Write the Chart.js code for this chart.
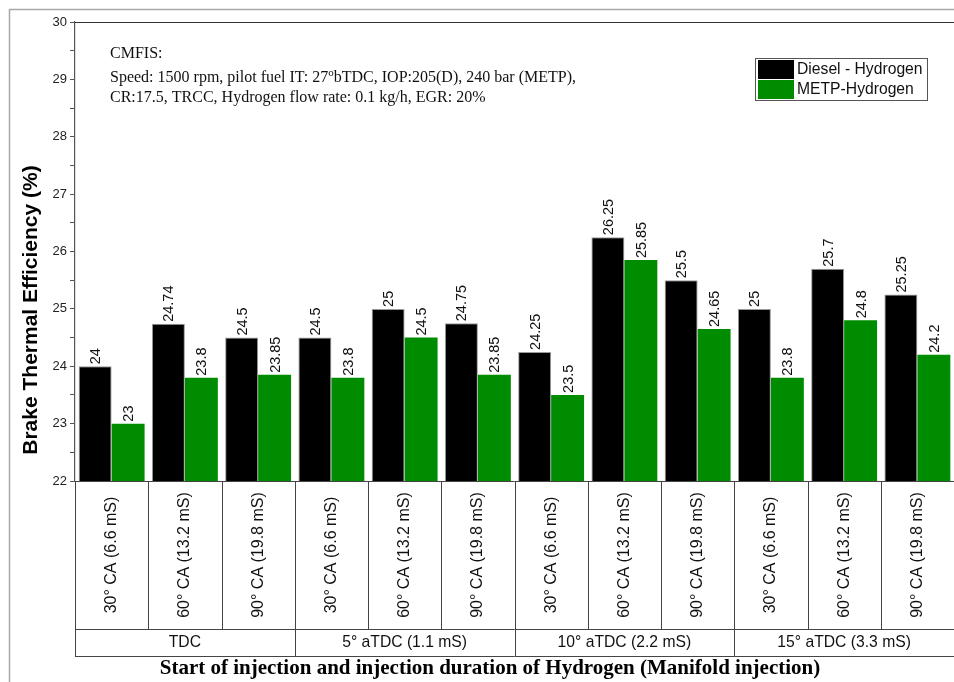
<!DOCTYPE html>
<html>
<head>
<meta charset="utf-8">
<script src="https://cdn.jsdelivr.net/npm/chart.js@4/dist/chart.umd.min.js"></script>
<style>
html,body{margin:0;padding:0;background:#fff;}
#wrap{width:954px;height:682px;position:relative;}
canvas{display:block;}
</style>
</head>
<body>
<div id="wrap"><canvas id="c" width="954" height="682"></canvas></div>
<script>
// ---- data ----
const categories = ["30° CA (6.6 mS)","60° CA (13.2 mS)","90° CA (19.8 mS)",
                    "30° CA (6.6 mS)","60° CA (13.2 mS)","90° CA (19.8 mS)",
                    "30° CA (6.6 mS)","60° CA (13.2 mS)","90° CA (19.8 mS)",
                    "30° CA (6.6 mS)","60° CA (13.2 mS)","90° CA (19.8 mS)"];
const groups = ["TDC","5° aTDC (1.1 mS)","10° aTDC (2.2 mS)","15° aTDC (3.3 mS)"];
const dieselHydrogen = [24, 24.74, 24.5, 24.5, 25, 24.75, 24.25, 26.25, 25.5, 25, 25.7, 25.25];
const metpHydrogen   = [23, 23.8, 23.85, 23.8, 24.5, 23.85, 23.5, 25.85, 24.65, 23.8, 24.8, 24.2];
const seriesNames = ["Diesel - Hydrogen","METP-Hydrogen"];
const yTitle = "Brake Thermal Efficiency (%)";
const xTitle = "Start of injection and injection duration of Hydrogen (Manifold injection)";
const noteLines = ["CMFIS:",
  ["Speed: 1500 rpm, pilot fuel IT: 27","o","bTDC, IOP:205(D), 240 bar (METP),"],
  "CR:17.5, TRCC, Hydrogen flow rate: 0.1 kg/h, EGR: 20%"];

const BLACK = '#000000', GREEN = '#008C00';

const drawPlugin = {
  id: 'custom',
  afterDatasetsDraw(chart) {
    const ctx = chart.ctx;
    ctx.save();
    ctx.font = '14.5px Arial, "Liberation Sans", sans-serif';
    ctx.fillStyle = '#111';
    ctx.textAlign = 'left';
    ctx.textBaseline = 'middle';
    chart.data.datasets.forEach((ds, di) => {
      chart.getDatasetMeta(di).data.forEach((bar, i) => {
        ctx.save();
        ctx.translate(bar.x + 1, bar.y - 2);
        ctx.rotate(-Math.PI / 2);
        ctx.fillText(String(ds.data[i]), 0, 0);
        ctx.restore();
      });
    });
    ctx.restore();
  },
  afterDraw(chart) {
    const ctx = chart.ctx;
    const a = chart.chartArea;
    const x = chart.scales.x;
    const n = categories.length;
    const cw = (a.right - a.left) / n;
    ctx.save();
    // outer frame
    ctx.strokeStyle = '#a8a8a8';
    ctx.lineWidth = 1.5;
    ctx.beginPath();
    ctx.moveTo(9.5, 682); ctx.lineTo(9.5, 9.5); ctx.lineTo(954, 9.5);
    ctx.stroke();
    // top frame of plot
    ctx.strokeStyle = '#333';
    ctx.lineWidth = 1.2;
    ctx.beginPath();
    ctx.moveTo(a.left, a.top + 0.5); ctx.lineTo(a.right, a.top + 0.5);
    ctx.stroke();
    // table
    const rowY = 629, botY = 656;
    ctx.strokeStyle = '#444';
    ctx.lineWidth = 1;
    ctx.beginPath();
    ctx.moveTo(a.left, a.bottom + 0.5); ctx.lineTo(a.right, a.bottom + 0.5);
    ctx.moveTo(a.left, rowY + 0.5); ctx.lineTo(a.right, rowY + 0.5);
    ctx.moveTo(a.left, botY + 0.5); ctx.lineTo(a.right, botY + 0.5);
    ctx.moveTo(a.left + 0.5, a.bottom); ctx.lineTo(a.left + 0.5, botY);
    for (let i = 1; i < n; i++) {
      const xx = Math.round(a.left + i * cw) + 0.5;
      ctx.moveTo(xx, a.bottom);
      ctx.lineTo(xx, i % 3 === 0 ? botY : rowY);
    }
    ctx.stroke();
    // category labels
    ctx.fillStyle = '#111';
    ctx.font = '16px Arial, "Liberation Sans", sans-serif';
    ctx.textAlign = 'center';
    ctx.textBaseline = 'middle';
    categories.forEach((c, i) => {
      const cx = x.getPixelForValue(i);
      ctx.save();
      ctx.translate(cx, 555);
      ctx.rotate(-Math.PI / 2);
      ctx.fillText(c, 0, 0);
      ctx.restore();
    });
    // group labels
    ctx.font = '15.7px Arial, "Liberation Sans", sans-serif';
    groups.forEach((g, gi) => {
      const gx = (x.getPixelForValue(gi * 3) + x.getPixelForValue(gi * 3 + 2)) / 2;
      ctx.fillText(g, gx, 643);
    });
    // x title
    ctx.font = 'bold 21px "Liberation Serif", "Times New Roman", serif';
    ctx.fillStyle = '#000';
    ctx.fillText(xTitle, 490, 669);
    // y title
    ctx.save();
    ctx.translate(31, 310);
    ctx.rotate(-Math.PI / 2);
    ctx.font = 'bold 21px Arial, "Liberation Sans", sans-serif';
    ctx.fillText(yTitle, 0, 0);
    ctx.restore();
    // note
    ctx.textAlign = 'left';
    ctx.font = '16px "Liberation Serif", "Times New Roman", serif';
    ctx.fillStyle = '#111';
    ctx.fillText(noteLines[0], 110, 54);
    let px = 110;
    const l2 = noteLines[1];
    ctx.fillText(l2[0], px, 78); px += ctx.measureText(l2[0]).width;
    ctx.font = '11px "Liberation Serif", "Times New Roman", serif';
    ctx.fillText(l2[1], px, 73); px += ctx.measureText(l2[1]).width;
    ctx.font = '16px "Liberation Serif", "Times New Roman", serif';
    ctx.fillText(l2[2], px, 78);
    ctx.fillText(noteLines[2], 110, 98);
    // legend
    const lx = 755, ly = 58, lw = 172, lh = 42;
    ctx.fillStyle = '#fff';
    ctx.fillRect(lx, ly, lw, lh);
    ctx.strokeStyle = '#555';
    ctx.lineWidth = 1;
    ctx.strokeRect(lx + 0.5, ly + 0.5, lw, lh);
    ctx.font = '15.7px Arial, "Liberation Sans", sans-serif';
    chart.data.datasets.forEach((ds, di) => {
      const sy = ly + 2 + di * 20;
      ctx.fillStyle = ds.backgroundColor;
      ctx.fillRect(lx + 3, sy, 36, 19);
      ctx.fillStyle = '#111';
      ctx.fillText(ds.label, lx + 42, sy + 10);
    });
    ctx.restore();
  }
};

new Chart(document.getElementById('c'), {
  type: 'bar',
  data: {
    labels: categories,
    datasets: [
      { label: seriesNames[0], data: dieselHydrogen, backgroundColor: BLACK, borderColor: '#9a9a9a', borderWidth: 1 },
      { label: seriesNames[1], data: metpHydrogen, backgroundColor: GREEN, borderColor: '#2a9a2a', borderWidth: 0 }
    ]
  },
  options: {
    responsive: false,
    devicePixelRatio: 1,
    animation: false,
    layout: { padding: { left: 0, right: 0, top: 22, bottom: 201 } },
    plugins: { legend: { display: false }, tooltip: { enabled: false } },
    datasets: { bar: { categoryPercentage: 0.9, barPercentage: 1.0 } },
    scales: {
      x: { display: false, offset: true },
      y: {
        min: 22, max: 30,
        afterFit(s) { s.width = 75; },
        border: { display: true, color: '#555', width: 1.2 },
        grid: { drawOnChartArea: false, drawTicks: true, tickLength: 5, color: '#555' },
        ticks: {
          stepSize: 0.5, autoSkip: false, padding: 3,
          color: '#222',
          font: { family: 'Arial, "Liberation Sans", sans-serif', size: 13 },
          callback: v => Number.isInteger(v) ? String(v) : ''
        }
      }
    }
  },
  plugins: [drawPlugin]
});
</script>
</body>
</html>
